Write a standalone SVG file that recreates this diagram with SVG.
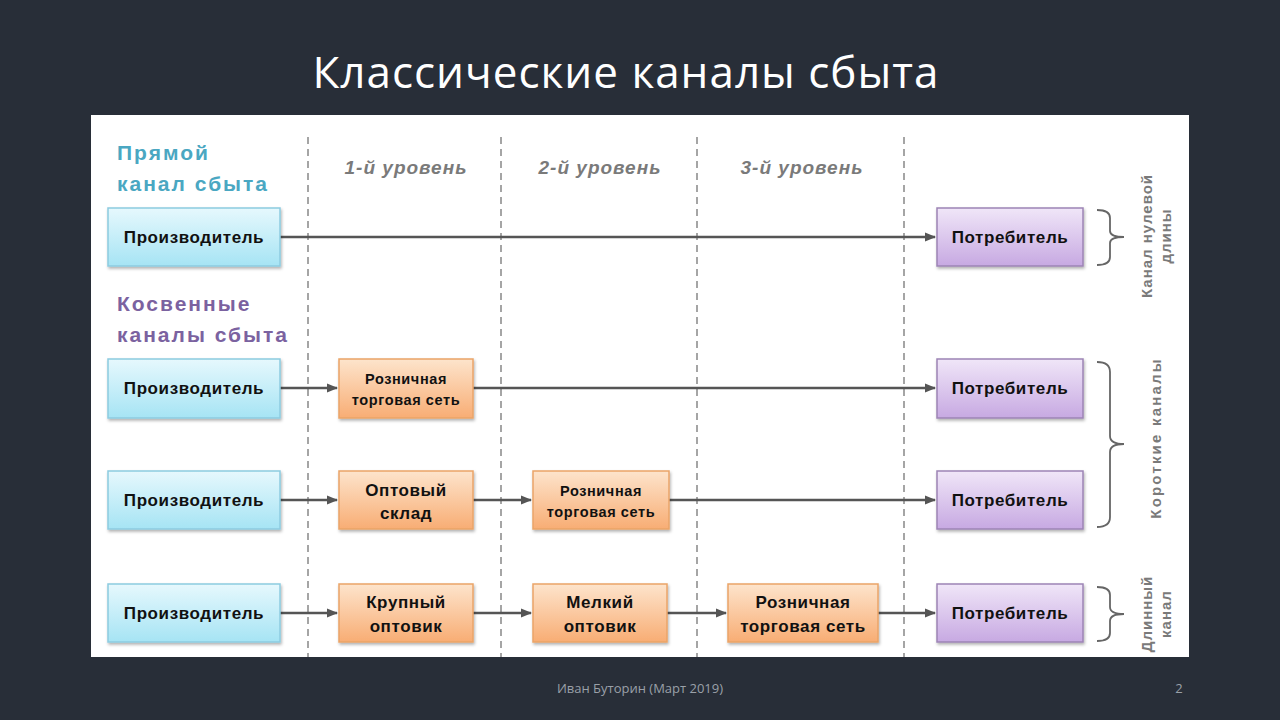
<svg xmlns="http://www.w3.org/2000/svg" width="1280" height="720" viewBox="0 0 1280 720">
<defs>
<linearGradient id="gBlue" x1="0" y1="0" x2="0" y2="1"><stop offset="0" stop-color="#e6f8fd"/><stop offset="1" stop-color="#a6e4f4"/></linearGradient>
<linearGradient id="gPurple" x1="0" y1="0" x2="0" y2="1"><stop offset="0" stop-color="#f0e6f8"/><stop offset="1" stop-color="#c7a9e2"/></linearGradient>
<linearGradient id="gOrange" x1="0" y1="0" x2="0" y2="1"><stop offset="0" stop-color="#fde4cc"/><stop offset="1" stop-color="#f8ad74"/></linearGradient>
<filter id="sh" x="-10%" y="-10%" width="130%" height="140%"><feDropShadow dx="1" dy="2" stdDeviation="1.5" flood-color="#000" flood-opacity="0.3"/></filter>
<marker id="arr" viewBox="0 0 10 10" refX="9" refY="5" markerWidth="4.5" markerHeight="4.5" orient="auto"><path d="M0,1 L10,5 L0,9 z" fill="#555"/></marker>
<style>
.blue{fill:url(#gBlue);stroke:#8ccbe0;stroke-width:1.5;filter:url(#sh)}
.purple{fill:url(#gPurple);stroke:#9d84b5;stroke-width:1.5;filter:url(#sh)}
.orange{fill:url(#gOrange);stroke:#eaa468;stroke-width:1.5;filter:url(#sh)}
.t{font-family:"Liberation Sans",Arial,sans-serif;font-weight:bold;fill:#111;text-anchor:middle;font-size:17px;letter-spacing:0.6px}
.s{font-size:14.5px;letter-spacing:0.6px}
.lvl{font-family:"Liberation Sans",Arial,sans-serif;font-weight:bold;font-style:italic;fill:#7a7a7a;font-size:19px;letter-spacing:1px;text-anchor:middle}
.hdr{font-family:"Liberation Sans",Arial,sans-serif;font-weight:bold;font-size:21px;letter-spacing:2px}
.side{font-family:"Liberation Sans",Arial,sans-serif;font-weight:bold;font-size:15px;letter-spacing:1px;fill:#7a7a7a;text-anchor:middle}
.dash{stroke:#888;stroke-width:1.5;stroke-dasharray:7,5;fill:none}
.ln{stroke:#555;stroke-width:2.5;fill:none}
.br{stroke:#666;stroke-width:1.8;fill:none}
</style>
</defs>
<rect width="1280" height="720" fill="#282e38"/>
<text x="626" y="88" font-family="'Open Sans','Liberation Sans',sans-serif" font-size="44" fill="#ffffff" text-anchor="middle" letter-spacing="1">Классические каналы сбыта</text>
<rect x="91" y="115" width="1098" height="542" fill="#ffffff"/>

<g id="grid">
<line class="dash" x1="308" y1="137" x2="308" y2="657"/>
<line class="dash" x1="501" y1="137" x2="501" y2="657"/>
<line class="dash" x1="697" y1="137" x2="697" y2="657"/>
<line class="dash" x1="904" y1="137" x2="904" y2="657"/>
<text class="lvl" x="406" y="174">1-й уровень</text>
<text class="lvl" x="600" y="174">2-й уровень</text>
<text class="lvl" x="802" y="174">3-й уровень</text>
</g>

<g id="headers">
<text class="hdr" x="117" y="160" fill="#4aa7c2">Прямой</text>
<text class="hdr" x="117" y="191" fill="#4aa7c2">канал сбыта</text>
<text class="hdr" x="117" y="311" fill="#7b62a0">Косвенные</text>
<text class="hdr" x="117" y="342" fill="#7b62a0">каналы сбыта</text>
</g>

<g id="connectors">
<line class="ln" x1="280" y1="237" x2="935" y2="237" marker-end="url(#arr)"/>
<line class="ln" x1="280" y1="388" x2="337" y2="388" marker-end="url(#arr)"/>
<line class="ln" x1="473" y1="388" x2="935" y2="388" marker-end="url(#arr)"/>
<line class="ln" x1="280" y1="500" x2="337" y2="500" marker-end="url(#arr)"/>
<line class="ln" x1="473" y1="500" x2="531" y2="500" marker-end="url(#arr)"/>
<line class="ln" x1="669" y1="500" x2="935" y2="500" marker-end="url(#arr)"/>
<line class="ln" x1="280" y1="613" x2="337" y2="613" marker-end="url(#arr)"/>
<line class="ln" x1="473" y1="613" x2="531" y2="613" marker-end="url(#arr)"/>
<line class="ln" x1="667" y1="613" x2="726" y2="613" marker-end="url(#arr)"/>
<line class="ln" x1="878" y1="613" x2="935" y2="613" marker-end="url(#arr)"/>
</g>

<g id="p1"><rect class="blue" x="108" y="208" width="172" height="58"/><text class="t" x="194" y="243">Производитель</text></g>
<g id="p2"><rect class="blue" x="108" y="359" width="172" height="59"/><text class="t" x="194" y="394">Производитель</text></g>
<g id="p3"><rect class="blue" x="108" y="471" width="172" height="58"/><text class="t" x="194" y="506">Производитель</text></g>
<g id="p4"><rect class="blue" x="108" y="584" width="172" height="58"/><text class="t" x="194" y="619">Производитель</text></g>

<g id="c1"><rect class="purple" x="937" y="208" width="146" height="58"/><text class="t" x="1010" y="243">Потребитель</text></g>
<g id="c2"><rect class="purple" x="937" y="359" width="146" height="59"/><text class="t" x="1010" y="394">Потребитель</text></g>
<g id="c3"><rect class="purple" x="937" y="471" width="146" height="58"/><text class="t" x="1010" y="506">Потребитель</text></g>
<g id="c4"><rect class="purple" x="937" y="584" width="146" height="58"/><text class="t" x="1010" y="619">Потребитель</text></g>

<g id="r2a"><rect class="orange" x="339" y="359" width="134" height="59"/><text class="t s" x="406" y="384">Розничная</text><text class="t s" x="406" y="405">торговая сеть</text></g>
<g id="r3a"><rect class="orange" x="339" y="471" width="134" height="58"/><text class="t" x="406" y="496">Оптовый</text><text class="t" x="406" y="519">склад</text></g>
<g id="r3b"><rect class="orange" x="533" y="471" width="136" height="58"/><text class="t s" x="601" y="496">Розничная</text><text class="t s" x="601" y="517">торговая сеть</text></g>
<g id="r4a"><rect class="orange" x="339" y="584" width="134" height="58"/><text class="t" x="406" y="608">Крупный</text><text class="t" x="406" y="632">оптовик</text></g>
<g id="r4b"><rect class="orange" x="533" y="584" width="134" height="58"/><text class="t" x="600" y="608">Мелкий</text><text class="t" x="600" y="632">оптовик</text></g>
<g id="r4c"><rect class="orange" x="728" y="584" width="150" height="58"/><text class="t" x="803" y="608">Розничная</text><text class="t" x="803" y="632">торговая сеть</text></g>

<g id="braces">
<path class="br" d="M1097,210 Q1110,210 1110,218 L1110,231 Q1110,237 1124,237 Q1110,237 1110,243 L1110,257 Q1110,265 1097,265"/>
<path class="br" d="M1097,362 Q1110,362 1110,372 L1110,436 Q1110,444 1124,444 Q1110,444 1110,452 L1110,517 Q1110,527 1097,527"/>
<path class="br" d="M1097,587 Q1110,587 1110,595 L1110,607 Q1110,614 1124,614 Q1110,614 1110,621 L1110,633 Q1110,641 1097,641"/>
</g>

<g id="sideLabels">
<text class="side" transform="translate(1152,236) rotate(-90)">Канал нулевой</text>
<text class="side" transform="translate(1171,236) rotate(-90)">длины</text>
<text class="side" style="letter-spacing:2.2px" transform="translate(1161,438) rotate(-90)">Короткие каналы</text>
<text class="side" transform="translate(1152,614) rotate(-90)">Длинный</text>
<text class="side" transform="translate(1171,614) rotate(-90)">канал</text>
</g>

<text x="640" y="693" font-family="'Open Sans','Liberation Sans',sans-serif" font-size="13" fill="#9aa0a8" text-anchor="middle">Иван Буторин (Март 2019)</text>
<text x="1179" y="693" font-family="'Open Sans','Liberation Sans',sans-serif" font-size="13" fill="#9aa0a8" text-anchor="middle">2</text>
</svg>
